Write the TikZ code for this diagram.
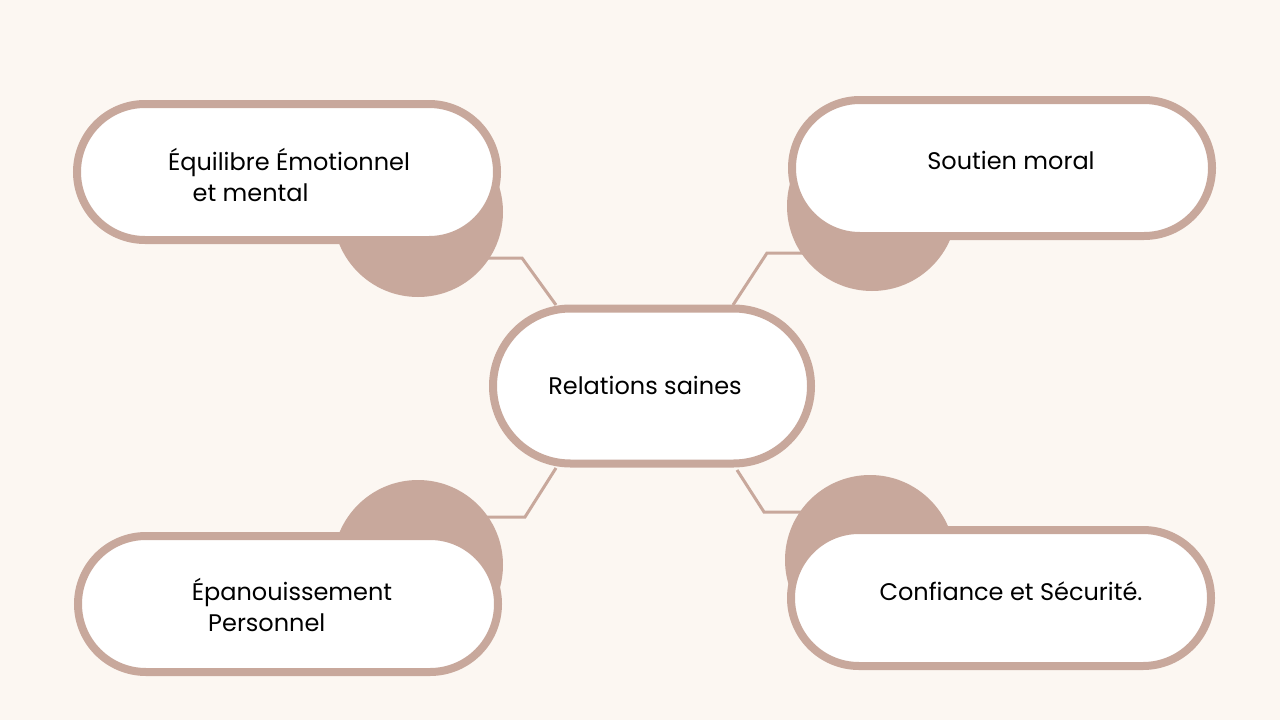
\documentclass[tikz,border=0pt]{standalone}
\usepackage{fontspec}
\setmainfont{Poppins}
\usetikzlibrary{shapes.misc}
\definecolor{bg}{HTML}{FCF7F2}
\definecolor{rose}{HTML}{C8A89C}
\begin{document}
\begin{tikzpicture}[x=1pt,y=-1pt,
  pill/.style={rounded rectangle,draw=rose,line width=8pt,fill=white,inner sep=0pt,minimum width=420pt,minimum height=136pt},
  blob/.style={circle,fill=rose,minimum size=170pt,inner sep=0pt},
  link/.style={draw=rose,line width=3pt},
  txt/.style={font=\fontsize{24}{32}\selectfont,align=center}]
\fill[bg] (0,0) rectangle (1280,720);
\useasboundingbox (0,0) rectangle (1280,720);
\coordinate (c1) at (418,212); \coordinate (c2) at (872,206);
\coordinate (c3) at (418,565); \coordinate (c4) at (870,560);
\coordinate (k1) at (522,258); \coordinate (k2) at (767,253);
\coordinate (k3) at (525,517); \coordinate (k4) at (764,512);
\coordinate (e1) at (556,305); \coordinate (e2) at (733,305);
\coordinate (e3) at (556,468); \coordinate (e4) at (737,470);
\draw[link] (e1) -- (k1) -- (k1 -| c1);
\draw[link] (e2) -- (k2) -- (k2 -| c2);
\draw[link] (e3) -- (k3) -- (k3 -| c3);
\draw[link] (e4) -- (k4) -- (k4 -| c4);
\node[blob] (b1) at (c1) {};
\node[blob] (b2) at (c2) {};
\node[blob] (b3) at (c3) {};
\node[blob] (b4) at (c4) {};
\node[pill,minimum width=318pt,minimum height=155pt] (m) at (652,386) {};
\node[pill] (p1) at (287,172) {};
\node[pill] (p2) at (1002,168) {};
\node[pill] (p3) at (288,604) {};
\node[pill] (p4) at (1001,598) {};
\node[txt] (mt) at (645,385) {Relations saines};
\node[txt] (t1) at (289,175) {Équilibre Émotionnel\\[-1pt]et mental\hspace*{3.2em}};
\node[txt] (t2) at (1011,160) {Soutien moral};
\node[txt] (t3) at (292,605) {Épanouissement\\[-1pt]Personnel\hspace*{2.1em}};
\node[txt] (t4) at (1011,591) {Confiance et Sécurité.};
\end{tikzpicture}
\end{document}
